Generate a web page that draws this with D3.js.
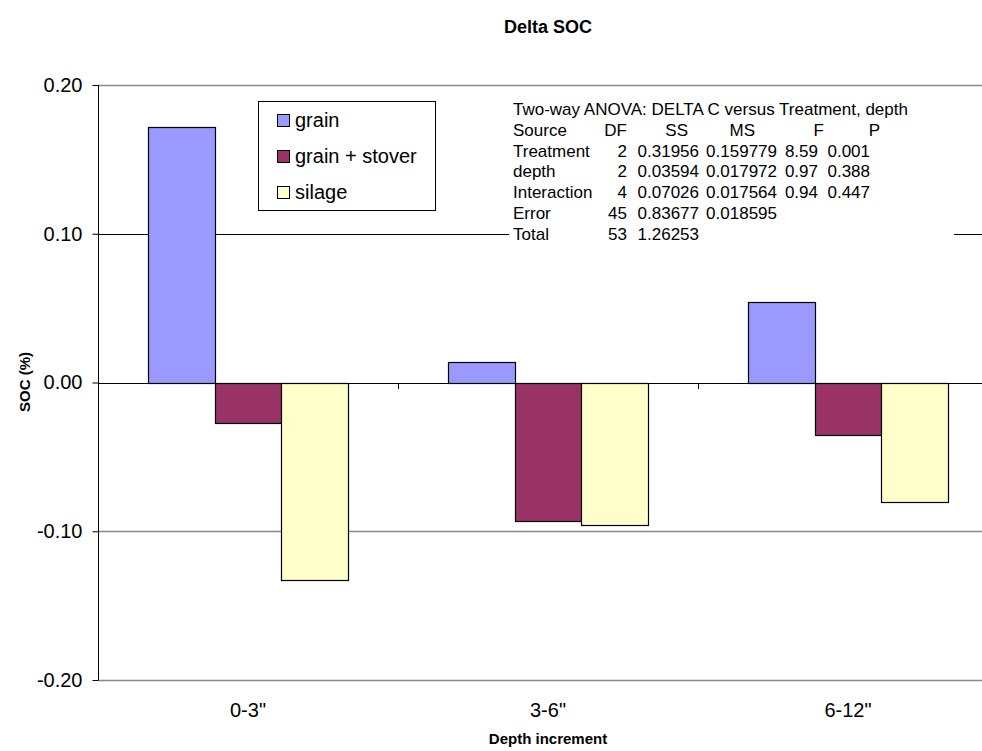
<!DOCTYPE html>
<html>
<head>
<meta charset="utf-8">
<script src="https://cdn.jsdelivr.net/npm/d3@7"></script>
<style>
body { margin: 0; background: #fff; }
svg { font-family: "Liberation Sans", Arial, sans-serif; }
</style>
</head>
<body>
<script>
// data
var depths = ["0-3\"", "3-6\"", "6-12\""];
var treatments = ["grain", "grain + stover", "silage"];
var grain = [0.172, 0.014, 0.054];
var grainStover = [-0.027, -0.093, -0.035];
var silage = [-0.133, -0.096, -0.080];
var colors = ["#9999ff", "#993366", "#ffffcc"];
var yTicks = [-0.20, -0.10, 0.00, 0.10, 0.20];

var anovaTitle = "Two-way ANOVA: DELTA C versus Treatment, depth";
var anovaHead = ["Source", "DF", "SS", "MS", "F", "P"];
var anovaRows = [
	["Treatment", "2", "0.31956", "0.159779", "8.59", "0.001"],
	["depth", "2", "0.03594", "0.017972", "0.97", "0.388"],
	["Interaction", "4", "0.07026", "0.017564", "0.94", "0.447"],
	["Error", "45", "0.83677", "0.018595", "", ""],
	["Total", "53", "1.26253", "", "", ""]
];

var series = [grain, grainStover, silage];

var width = 982, height = 751;
var margin = {top: 85, left: 98};
var plotW = 900, plotH = 595;

var svg = d3.select("body").append("svg")
	.attr("width", width)
	.attr("height", height);

var g = svg.append("g")
	.attr("transform", "translate(" + margin.left + "," + margin.top + ")");

// one band per depth, bars take the middle two thirds (gap width 150%)
var x0 = d3.scaleBand().domain(depths).range([0, plotW]);
var x1 = d3.scaleBand().domain(treatments)
	.range([x0.bandwidth() / 6, x0.bandwidth() * 5 / 6]);
var y = d3.scaleLinear().domain([-0.2, 0.2]).range([plotH, 0]);

// gridlines
g.selectAll(".grid")
	.data(yTicks.filter(function(d){ return d != 0; }))
	.enter().append("line")
	.attr("x1", 0).attr("x2", plotW)
	.attr("y1", function(d){ return Math.round(y(d)) + 0.5; })
	.attr("y2", function(d){ return Math.round(y(d)) + 0.5; })
	.attr("stroke", function(d){ return d == 0.1 ? "#000" : "#888"; })
	.attr("stroke-width", function(d){ return d == 0.1 ? 1 : 1.5; });

// y axis
var yAxis = d3.axisLeft(y).tickValues(yTicks).tickSize(6).tickPadding(10);
var ya = g.append("g").attr("transform", "translate(0.5,0)").call(yAxis);
ya.select(".domain").attr("d", "M0," + plotH + "V0").attr("stroke", "#000");
ya.selectAll("line").attr("stroke", "#000");
ya.selectAll("text")
	.attr("font-size", "20px").attr("fill", "#000")
	.attr("font-family", "Liberation Sans, Arial, sans-serif")
	.text(function(d){ return d3.format(".2f")(d).replace("−", "-"); });

// bars
var groups = g.selectAll(".grp")
	.data(depths)
	.enter().append("g")
	.attr("transform", function(d){ return "translate(" + x0(d) + ",0)"; });

groups.selectAll("rect")
	.data(function(d, i){
		return treatments.map(function(t, j){ return {t: t, v: series[j][i], c: colors[j]}; });
	})
	.enter().append("rect")
	.attr("x", function(d){ return Math.round(x1(d.t)) + 0.5; })
	.attr("width", Math.round(x1.bandwidth()))
	.attr("y", function(d){ return Math.round(y(Math.max(0, d.v))) + 0.5; })
	.attr("height", function(d){ return Math.abs(Math.round(y(d.v)) - Math.round(y(0))); })
	.attr("fill", function(d){ return d.c; })
	.attr("stroke", "#000")
	.attr("stroke-width", 1.2);

// white box behind the anova text, it hides the gridline
svg.append("rect")
	.attr("x", 509).attr("y", 96)
	.attr("width", 445).attr("height", 150)
	.attr("fill", "#fff");

// zero axis with category ticks
g.append("line")
	.attr("x1", 0).attr("x2", plotW)
	.attr("y1", Math.round(y(0)) + 0.5).attr("y2", Math.round(y(0)) + 0.5)
	.attr("stroke", "#000");
g.selectAll(".xt")
	.data(depths)
	.enter().append("line")
	.attr("x1", function(d){ return Math.round(x0(d)) + 0.5; })
	.attr("x2", function(d){ return Math.round(x0(d)) + 0.5; })
	.attr("y1", Math.round(y(0)))
	.attr("y2", Math.round(y(0)) + 6)
	.attr("stroke", "#000");

// category labels below the plot
g.selectAll(".cat")
	.data(depths)
	.enter().append("text")
	.attr("x", function(d){ return x0(d) + x0.bandwidth() / 2; })
	.attr("y", plotH + 37)
	.attr("text-anchor", "middle")
	.attr("font-size", "20px")
	.text(function(d){ return d; });

// anova table
var ax = 513, ay = 115, lh = 20.8;
var headEnd = [0, 627, 688, 755, 824, 880];
var valEnd = [0, 627, 699, 777, 818, 870];
var t = svg.append("g").attr("font-size", "17px");
t.append("text").attr("x", ax).attr("y", ay).text(anovaTitle);
anovaHead.forEach(function(h, i){
	t.append("text")
		.attr("x", i == 0 ? ax : headEnd[i])
		.attr("y", ay + lh)
		.attr("text-anchor", i == 0 ? "start" : "end")
		.text(h);
});
anovaRows.forEach(function(row, r){
	row.forEach(function(c, i){
		t.append("text")
			.attr("x", i == 0 ? ax : valEnd[i])
			.attr("y", ay + lh * (r + 2))
			.attr("text-anchor", i == 0 ? "start" : "end")
			.text(c);
	});
});

// legend
var lg = svg.append("g").attr("transform", "translate(258,101)");
lg.append("rect").attr("x", 0.5).attr("y", 0.5).attr("width", 177).attr("height", 109)
	.attr("fill", "#fff").attr("stroke", "#000");
treatments.forEach(function(tr, i){
	lg.append("rect").attr("x", 19.5).attr("y", 13.5 + i * 36).attr("width", 12).attr("height", 12)
		.attr("fill", colors[i]).attr("stroke", "#000");
	lg.append("text").attr("x", 37).attr("y", 26 + i * 36)
		.attr("font-size", "20px").text(tr);
});

// titles
svg.append("text").attr("x", 548).attr("y", 33).attr("text-anchor", "middle")
	.attr("font-weight", "bold").attr("font-size", "18px").text("Delta SOC");
svg.append("text").attr("x", 548).attr("y", 744).attr("text-anchor", "middle")
	.attr("font-weight", "bold").attr("font-size", "15px").text("Depth increment");
svg.append("text").attr("transform", "translate(30,382) rotate(-90)")
	.attr("text-anchor", "middle")
	.attr("font-weight", "bold").attr("font-size", "15px").text("SOC (%)");
</script>
</body>
</html>
